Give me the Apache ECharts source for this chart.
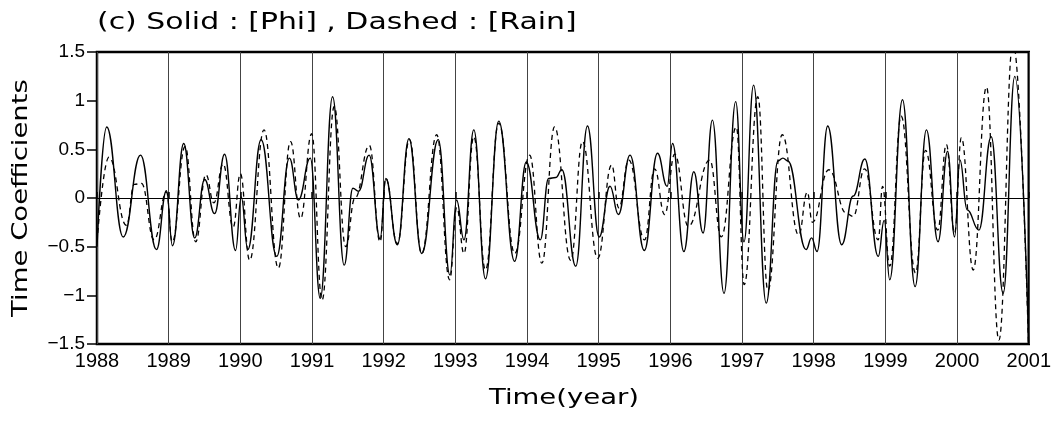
<!DOCTYPE html>
<html>
<head>
<meta charset="utf-8">
<script src="https://cdn.jsdelivr.net/npm/echarts@6/dist/echarts.min.js"></script>
<style>
  html, body { margin: 0; padding: 0; background: #fff; }
  #chart { width: 1054px; height: 422px; }
</style>
</head>
<body>
<div id="chart"></div>
<script>
// Time axis (decimal years) and value axis ticks
const yearTicks = [1988, 1989, 1990, 1991, 1992, 1993, 1994, 1995, 1996, 1997, 1998, 1999, 2000, 2001];
const valueTicks = [-1.5, -1, -0.5, 0, 0.5, 1, 1.5];

// Text drawn around the plot
const headingText = '(c) Solid : [Phi] , Dashed : [Rain]';
const yNameText = 'Time Coefficients';
const xNameText = 'Time(year)';

// Solid curve: [Phi] time coefficient (turning points, decimal year / value)
const phiTime = [
  1988.00, 1988.135, 1988.366, 1988.607, 1988.83, 1988.969, 1989.053, 1989.21, 1989.363, 1989.502,
  1989.641, 1989.78, 1989.933, 1990.012, 1990.104, 1990.29, 1990.508, 1990.684, 1990.81, 1990.976,
  1991.115, 1991.287, 1991.449, 1991.57, 1991.65, 1991.797, 1991.95, 1992.03, 1992.19, 1992.353,
  1992.53, 1992.761, 1992.924, 1993.017, 1993.12, 1993.257, 1993.42, 1993.605, 1993.827, 1993.99,
  1994.185, 1994.30, 1994.40, 1994.486, 1994.68, 1994.843, 1995.006, 1995.158, 1995.274, 1995.437,
  1995.636, 1995.82, 1995.955, 1996.03, 1996.188, 1996.327, 1996.456, 1996.586, 1996.748, 1996.911,
  1997.027, 1997.161, 1997.337, 1997.50, 1997.57, 1997.64, 1997.893, 1997.97, 1998.046, 1998.195,
  1998.39, 1998.55, 1998.713, 1998.90, 1998.983, 1999.06, 1999.238, 1999.414, 1999.572, 1999.734,
  1999.868, 1999.965, 2000.04, 2000.14, 2000.305, 2000.476, 2000.643, 2000.805, 2001.0
];
const phiValue = [
  -0.50, 0.73, -0.40, 0.44, -0.53, 0.075, -0.49, 0.56, -0.41, 0.19,
  -0.16, 0.45, -0.54, 0.01, -0.53, 0.60, -0.60, 0.41, -0.02, 0.41,
  -1.03, 1.04, -0.69, 0.10, 0.07, 0.44, -0.42, 0.20, -0.48, 0.61,
  -0.57, 0.60, -0.79, -0.02, -0.43, 0.70, -0.83, 0.79, -0.65, 0.37,
  -0.43, 0.20, 0.21, 0.29, -0.70, 0.74, -0.40, 0.12, -0.17, 0.44,
  -0.54, 0.46, 0.12, 0.56, -0.55, 0.27, -0.36, 0.80, -0.98, 0.99,
  -0.45, 1.16, -1.08, 0.38, 0.41, 0.38, -0.53, -0.41, -0.55, 0.74,
  -0.48, 0.02, 0.40, -0.60, -0.23, -0.84, 1.01, -0.91, 0.70, -0.45,
  0.48, -0.40, 0.39, -0.12, -0.33, 0.63, -0.98, 1.25, -1.50
];

// Dashed curve: [Rain] time coefficient
const rainTime = [
  1988.00, 1988.167, 1988.41, 1988.52, 1988.62, 1988.797, 1988.97, 1989.05, 1989.23, 1989.377,
  1989.52, 1989.63, 1989.76, 1989.90, 1990.00, 1990.13, 1990.33, 1990.53, 1990.70, 1990.84,
  1990.995, 1991.14, 1991.31, 1991.47, 1991.60, 1991.80, 1991.95, 1992.03, 1992.19, 1992.36,
  1992.53, 1992.74, 1992.92, 1993.02, 1993.12, 1993.257, 1993.42, 1993.605, 1993.83, 1994.036,
  1994.207, 1994.384, 1994.61, 1994.773, 1994.986, 1995.18, 1995.28, 1995.42, 1995.64, 1995.78,
  1995.92, 1996.06, 1996.25, 1996.549, 1996.71, 1996.92, 1997.03, 1997.22, 1997.36, 1997.56,
  1997.79, 1997.91, 1997.98, 1998.21, 1998.46, 1998.55, 1998.71, 1998.90, 1998.96, 1999.06,
  1999.22, 1999.42, 1999.56, 1999.73, 1999.85, 1999.965, 2000.06, 2000.225, 2000.41, 2000.583,
  2000.78, 2001.0
];
const rainValue = [
  -0.45, 0.42, -0.28, 0.14, 0.15, -0.43, 0.06, -0.45, 0.53, -0.45,
  0.24, -0.05, 0.35, -0.30, 0.25, -0.64, 0.70, -0.72, 0.58, -0.21,
  0.66, -1.05, 0.94, -0.50, 0.00, 0.54, -0.45, 0.20, -0.47, 0.60,
  -0.57, 0.65, -0.84, -0.10, -0.57, 0.63, -0.74, 0.77, -0.57, 0.44,
  -0.67, 0.73, -0.64, 0.58, -0.62, 0.34, -0.10, 0.39, -0.43, 0.30,
  -0.17, 0.45, -0.29, 0.39, -0.40, 0.73, -0.89, 1.04, -0.95, 0.65,
  -0.38, 0.06, -0.25, 0.29, -0.16, -0.19, 0.30, -0.43, 0.12, -0.70,
  0.84, -0.77, 0.49, -0.33, 0.55, -0.36, 0.62, -0.74, 1.14, -1.46,
  1.60, -1.60
];

const pairs = (xs, ys) => xs.map((x, i) => [x, ys[i]]);

const tickFont = '"Liberation Sans", Arial, sans-serif';
const textFont = '"DejaVu Sans", sans-serif';

const chart = echarts.init(document.getElementById('chart'), null, { renderer: 'canvas' });

chart.setOption({
  backgroundColor: '#ffffff',
  animation: false,
  graphic: [
    {
      // heading, drawn wide like the plotting package's stroke font
      type: 'text',
      left: 97,
      top: 12,
      scaleX: 1.3,
      style: { text: headingText, font: '23px ' + textFont, fill: '#000' }
    },
    {
      // vertical axis title, reading bottom to top
      type: 'text',
      x: 21,
      y: 198,
      rotation: Math.PI / 2,
      scaleX: 1.25,
      style: {
        text: yNameText, font: '22px ' + textFont, fill: '#000',
        textAlign: 'center', textVerticalAlign: 'middle'
      }
    },
    {
      // horizontal axis title
      type: 'text',
      x: 564,
      y: 398,
      scaleX: 1.25,
      style: {
        text: xNameText, font: '22px ' + textFont, fill: '#000',
        textAlign: 'center', textVerticalAlign: 'middle'
      }
    }
  ],
  grid: {
    left: 97, right: 22, top: 52, bottom: 78,
    show: true, borderColor: '#000', borderWidth: 2.5, backgroundColor: 'transparent'
  },
  xAxis: {
    type: 'value',
    min: yearTicks[0],
    max: yearTicks[yearTicks.length - 1],
    interval: 1,
    axisLine: { show: false },
    axisTick: { show: true, inside: true, length: 6, lineStyle: { color: '#000', width: 1.5 } },
    axisLabel: { fontFamily: tickFont, fontSize: 20, color: '#000', margin: 7, formatter: v => String(v) },
    splitLine: { show: true, lineStyle: { color: '#444', width: 1 } }
  },
  yAxis: {
    type: 'value',
    min: valueTicks[0],
    max: valueTicks[valueTicks.length - 1],
    interval: 0.5,
    axisLine: { show: false },
    axisTick: { show: true, inside: false, length: 10, lineStyle: { color: '#000', width: 1.5 } },
    axisLabel: {
      fontFamily: tickFont, fontSize: 19, color: '#000', margin: 12,
      formatter: v => (v < 0 ? '\u2212' + Math.abs(v) : String(v))
    },
    splitLine: { show: false }
  },
  series: [
    {
      name: 'Phi',
      type: 'line',
      data: pairs(phiTime, phiValue),
      smooth: 0.45,
      smoothMonotone: 'x',
      showSymbol: false,
      clip: true,
      lineStyle: { color: '#000', width: 1.4, type: 'solid' },
      markLine: {
        silent: true,
        symbol: 'none',
        label: { show: false },
        lineStyle: { color: '#000', width: 1.2, type: 'solid' },
        data: [{ yAxis: 0 }]
      },
      z: 3
    },
    {
      name: 'Rain',
      type: 'line',
      data: pairs(rainTime, rainValue),
      smooth: 0.45,
      smoothMonotone: 'x',
      showSymbol: false,
      clip: true,
      lineStyle: { color: '#000', width: 1.3, type: [5, 4] },
      z: 2
    }
  ]
});
</script>
</body>
</html>
